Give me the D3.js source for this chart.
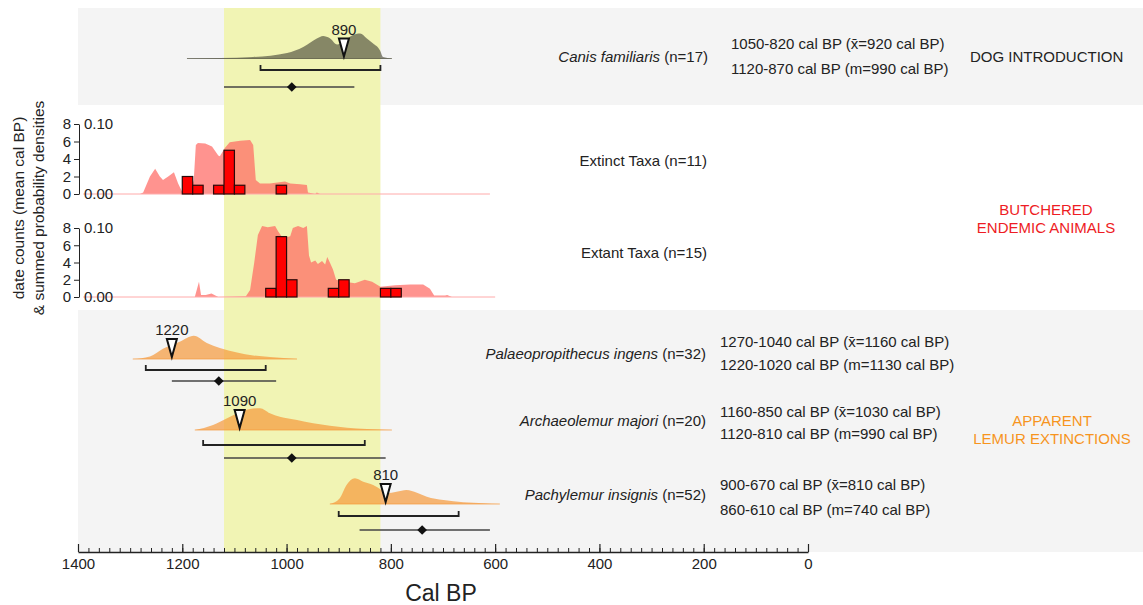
<!DOCTYPE html>
<html lang="en">
<head>
  <meta charset="UTF-8">
  <title></title>
  <style>
    html, body {
      margin: 0;
      overflow: hidden;
      width: 100%;
      height: 100%;
      background: #fff;
    }
    svg {
      position: absolute;
      top: 0;
      left: 0;
      width: 1143px;
      height: 605px;
      font-family: Arial, "Liberation Sans", sans-serif;
    }
  </style>
</head>
<body>
  <svg></svg>
<script src="https://d3js.org/d3.v7.min.js"></script>
<script type="text/javascript">
  // ---- data ----
  const xTicks = [1400, 1200, 1000, 800, 600, 400, 200, 0]
  const minorStep = 20
  const band = [1120, 820]

  const taxa = ['Canis familiaris', 'Palaeopropithecus ingens', 'Archaeolemur majori', 'Pachylemur insignis']
  const taxaN = [17, 32, 20, 52]
  const markerYears = [890, 1220, 1090, 810]
  const rangeA = [[1050, 820], [1270, 1040], [1160, 850], [900, 670]]
  const rangeB = [[1120, 870], [1220, 1020], [1120, 810], [860, 610]]
  const meanYears = [920, 1160, 1030, 810]
  const medianYears = [990, 1130, 990, 740]

  // relative densities [cal BP, value]
  const canisDensity = [[1191, 0], [1128, 0.02], [1064, 0.06], [999, 0.22], [968, 0.46], [942, 0.8], [930, 0.9], [917, 0.81], [903, 0.56], [892, 0.66], [874, 0.93], [859, 1], [846, 0.8], [834, 0.6], [821, 0.33], [815, 0.06], [798, 0]]
  const palaeoDensity = [[1295, 0], [1262, 0.1], [1237, 0.41], [1204, 0.7], [1178, 0.93], [1153, 0.64], [1128, 0.44], [1095, 0.26], [1064, 0.14], [1032, 0.08], [980, 0]]
  const archaeoDensity = [[1176, 0], [1141, 0.2], [1114, 0.47], [1089, 0.71], [1070, 0.84], [1051, 0.87], [1032, 0.67], [1013, 0.53], [980, 0.4], [949, 0.27], [917, 0.17], [884, 0.09], [846, 0.04], [798, 0]]
  const pachyDensity = [[917, 0], [898, 0.23], [885, 0.76], [869, 1.03], [853, 0.89], [834, 0.76], [818, 0.56], [808, 0.43], [789, 0.49], [770, 0.56], [750, 0.45], [731, 0.29], [699, 0.16], [661, 0.07], [622, 0.03], [591, 0]]

  // butchered animals: summed probability densities
  const extinctDensity = [[1390, 0], [1281, 0], [1275, 0.002], [1262, 0.025], [1252, 0.036], [1243, 0.025], [1237, 0.02], [1227, 0.025], [1216, 0.031], [1208, 0.015], [1200, 0.003], [1185, 0.003], [1178, 0.02], [1174, 0.07], [1170, 0.073], [1156, 0.072], [1143, 0.068], [1131, 0.055], [1128, 0.054], [1118, 0.066], [1109, 0.074], [1089, 0.076], [1070, 0.077], [1064, 0.07], [1059, 0.02], [1051, 0.015], [1032, 0.015], [1003, 0.018], [993, 0.015], [974, 0.014], [961, 0.013], [959, 0.002], [945, 0], [942, 0.002], [936, 0], [610, 0]]
  const extantDensity = [[1390, 0], [1176, 0], [1168, 0.022], [1164, 0.003], [1155, 0.003], [1144, 0.005], [1131, 0], [1078, 0.001], [1070, 0.01], [1062, 0.05], [1055, 0.09], [1047, 0.103], [1036, 0.101], [1022, 0.103], [1016, 0.095], [1007, 0.085], [993, 0.088], [988, 0.1], [978, 0.103], [968, 0.1], [961, 0.103], [957, 0.06], [953, 0.05], [945, 0.053], [940, 0.048], [932, 0.052], [926, 0.047], [922, 0.058], [917, 0.05], [911, 0.04], [905, 0.025], [888, 0.022], [869, 0.02], [850, 0.025], [836, 0.022], [820, 0.015], [792, 0.017], [763, 0.018], [738, 0.018], [725, 0.012], [717, 0.002], [696, 0.002], [692, 0.003], [683, 0], [600, 0]]

  // date counts per 20-year bin (bin start, cal BP)
  const binWidth = 20
  const extinctBins = [1200, 1180, 1140, 1120, 1100, 1020]
  const extinctCounts = [2, 1, 1, 5, 1, 1]
  const extantBins = [1040, 1020, 1000, 920, 900, 820, 800]
  const extantCounts = [1, 7, 2, 1, 2, 1, 1]
  const countTicks = [0, 2, 4, 6, 8]

  // ---- layout ----
  const svg = d3.select('svg')
  const x = d3.scaleLinear().domain([1400, 0]).range([78, 808])
  const axisY = 552
  const ink = '#222'

  // panels
  svg.append('rect').attr('x', 78).attr('y', 8).attr('width', 1065).attr('height', 97).attr('fill', '#f4f4f4')
  svg.append('rect').attr('x', 78).attr('y', 310).attr('width', 1065).attr('height', axisY - 310).attr('fill', '#f4f4f4')

  // highlight band
  svg.append('rect')
    .attr('x', x(band[0])).attr('y', 8)
    .attr('width', x(band[1]) - x(band[0])).attr('height', axisY - 8)
    .attr('fill', '#f1f4b4')

  // ---- taxon rows ----
  const rows = [
    { base: 58.5, bracket: 70, line: 87, nameY: 57, textX: 731, textY: [44, 69], color: '#4d4d3c', op: 0.65, dens: canisDensity },
    { base: 359, bracket: 370, line: 381, nameY: 354, textX: 720, textY: [342, 365], color: '#f5993a', op: 0.7, dens: palaeoDensity },
    { base: 430, bracket: 445, line: 458, nameY: 421, textX: 720, textY: [412, 434], color: '#f5993a', op: 0.7, dens: archaeoDensity },
    { base: 504, bracket: 516, line: 530, nameY: 495, textX: 720, textY: [485, 510], color: '#f5993a', op: 0.7, dens: pachyDensity }
  ]
  const h = d3.scaleLinear().domain([0, 1]).range([0, 25])

  rows.forEach((r, i) => {
    const g = svg.append('g')
    g.append('path')
      .datum(r.dens)
      .attr('d', d3.area().x(d => x(d[0])).y0(r.base).y1(d => r.base - h(d[1])).curve(d3.curveMonotoneX))
      .attr('fill', r.color).attr('fill-opacity', r.op)
    g.append('line')
      .attr('x1', x(r.dens[0][0])).attr('x2', x(r.dens[r.dens.length - 1][0]))
      .attr('y1', r.base).attr('y2', r.base)
      .attr('stroke', r.color).attr('stroke-opacity', 0.7).attr('stroke-width', 1)

    // marker triangle + label
    const mx = x(markerYears[i])
    g.append('path')
      .attr('d', `M${mx - 5},${r.base - 20}L${mx + 5},${r.base - 20}L${mx},${r.base - 2}Z`)
      .attr('fill', '#fff').attr('stroke', '#111').attr('stroke-width', 2).attr('stroke-linejoin', 'miter')
    g.append('text')
      .attr('x', mx).attr('y', r.base - 24)
      .attr('text-anchor', 'middle').attr('font-size', 15).attr('fill', ink)
      .text(markerYears[i])

    // range bracket
    const [a0, a1] = rangeA[i]
    g.append('path')
      .attr('d', `M${x(a0)},${r.bracket - 5}V${r.bracket}H${x(a1)}V${r.bracket - 5}`)
      .attr('fill', 'none').attr('stroke', ink).attr('stroke-width', 1.8)

    // range line + median diamond
    const [b0, b1] = rangeB[i]
    g.append('line')
      .attr('x1', x(b0)).attr('x2', x(b1)).attr('y1', r.line).attr('y2', r.line)
      .attr('stroke', '#444').attr('stroke-width', 1.5)
    g.append('path')
      .attr('d', d3.symbol(d3.symbolDiamond2, 60)())
      .attr('transform', `translate(${x(medianYears[i])},${r.line})`)
      .attr('fill', '#111')

    // names and ranges
    const name = g.append('text')
      .attr('x', i === 0 ? 708 : 706).attr('y', r.nameY + 5)
      .attr('text-anchor', 'end').attr('font-size', 15).attr('fill', ink)
    name.append('tspan').attr('font-style', 'italic').text(taxa[i])
    name.append('tspan').text(` (n=${taxaN[i]})`)

    g.append('text')
      .attr('x', r.textX).attr('y', r.textY[0] + 5)
      .attr('font-size', 15).attr('fill', ink)
      .text(`${a0}-${a1} cal BP (x\u0304=${meanYears[i]} cal BP)`)
    g.append('text')
      .attr('x', r.textX).attr('y', r.textY[1] + 5)
      .attr('font-size', 15).attr('fill', ink)
      .text(`${b0}-${b1} cal BP (m=${medianYears[i]} cal BP)`)
  })

  // ---- butchered animals panels ----
  const panels = [
    { name: 'Extinct Taxa', n: 11, y0: 194, y1: 124, labelY: 161, dens: extinctDensity, bins: extinctBins, counts: extinctCounts },
    { name: 'Extant Taxa', n: 15, y0: 297, y1: 228, labelY: 253, dens: extantDensity, bins: extantBins, counts: extantCounts }
  ]

  panels.forEach(p => {
    const yc = d3.scaleLinear().domain([0, 8]).range([p.y0, p.y1])
    const yd = d3.scaleLinear().domain([0, 0.1]).range([p.y0, p.y1])
    const g = svg.append('g')

    g.append('path')
      .datum(p.dens)
      .attr('d', d3.area().x(d => x(d[0])).y0(p.y0).y1(d => yd(d[1])))
      .attr('fill', '#ff6560').attr('fill-opacity', 0.7)
    g.append('line')
      .attr('x1', x(p.dens[0][0])).attr('x2', x(p.dens[p.dens.length - 1][0]))
      .attr('y1', p.y0).attr('y2', p.y0)
      .attr('stroke', '#ffaaaa').attr('stroke-width', 1)

    g.selectAll('rect.bar')
      .data(p.bins.map((b, i) => ({ b, c: p.counts[i] })))
      .enter().append('rect')
        .attr('class', 'bar')
        .attr('x', d => x(d.b))
        .attr('width', d => x(d.b - binWidth) - x(d.b))
        .attr('y', d => yc(d.c))
        .attr('height', d => p.y0 - yc(d.c))
        .attr('fill', '#ff0000')
        .attr('stroke', '#2a0a0a')
        .attr('stroke-width', 1.2)

    const ax = g.append('g')
      .attr('transform', 'translate(79,0)')
      .call(d3.axisLeft(yc).tickValues(countTicks).tickSize(5).tickSizeOuter(0))
    ax.select('.domain').attr('stroke', ink)
    ax.selectAll('.tick line').attr('stroke', ink)
    ax.selectAll('.tick text').attr('font-size', 15).attr('fill', ink).attr('font-family', 'Arial, "Liberation Sans", sans-serif')

    g.append('text').attr('x', 84).attr('y', p.y1 + 5).attr('font-size', 15).attr('fill', ink).text('0.10')
    g.append('text').attr('x', 84).attr('y', p.y0 + 5).attr('font-size', 15).attr('fill', ink).text('0.00')

    g.append('text')
      .attr('x', 707).attr('y', p.labelY + 5)
      .attr('text-anchor', 'end').attr('font-size', 15).attr('fill', ink)
      .text(`${p.name} (n=${p.n})`)
  })

  // y title
  const yt = svg.append('text')
    .attr('transform', 'translate(0,208) rotate(-90)')
    .attr('text-anchor', 'middle').attr('font-size', 15.5).attr('fill', ink)
  yt.append('tspan').attr('x', 0).attr('y', 24).text('date counts (mean cal BP)')
  yt.append('tspan').attr('x', 0).attr('y', 44).text('& summed probability densities')

  // group labels
  svg.append('text').attr('x', 970).attr('y', 62).attr('font-size', 15).attr('fill', ink).text('DOG INTRODUCTION')
  const red = svg.append('text').attr('text-anchor', 'middle').attr('font-size', 15).attr('fill', '#ee1c24')
  red.append('tspan').attr('x', 1046).attr('y', 215).text('BUTCHERED')
  red.append('tspan').attr('x', 1046).attr('y', 233).text('ENDEMIC ANIMALS')
  const orange = svg.append('text').attr('text-anchor', 'middle').attr('font-size', 15).attr('fill', '#f7941d')
  orange.append('tspan').attr('x', 1052).attr('y', 426).text('APPARENT')
  orange.append('tspan').attr('x', 1052).attr('y', 444).text('LEMUR EXTINCTIONS')

  // ---- x axis ----
  const minor = svg.append('g')
    .attr('transform', `translate(0,${axisY})`)
    .call(d3.axisBottom(x).tickValues(d3.range(0, 1401, minorStep)).tickSize(-4).tickSizeOuter(0).tickFormat(''))
  minor.select('.domain').remove()
  minor.selectAll('.tick line').attr('stroke', ink)

  const xa = svg.append('g')
    .attr('transform', `translate(0,${axisY})`)
    .call(d3.axisBottom(x).tickValues(xTicks).tickSize(-8).tickSizeOuter(0).tickFormat(d3.format('d')))
  xa.select('.domain').attr('stroke', ink).attr('stroke-width', 1.5)
  xa.selectAll('.tick line').attr('stroke', ink).attr('stroke-width', 1.2)
  xa.selectAll('.tick text').attr('y', 6).attr('font-size', 15).attr('fill', ink).attr('font-family', 'Arial, "Liberation Sans", sans-serif')

  svg.append('text')
    .attr('x', 441).attr('y', 601)
    .attr('text-anchor', 'middle').attr('font-size', 23).attr('fill', ink)
    .text('Cal BP')
</script>
</body>
</html>
